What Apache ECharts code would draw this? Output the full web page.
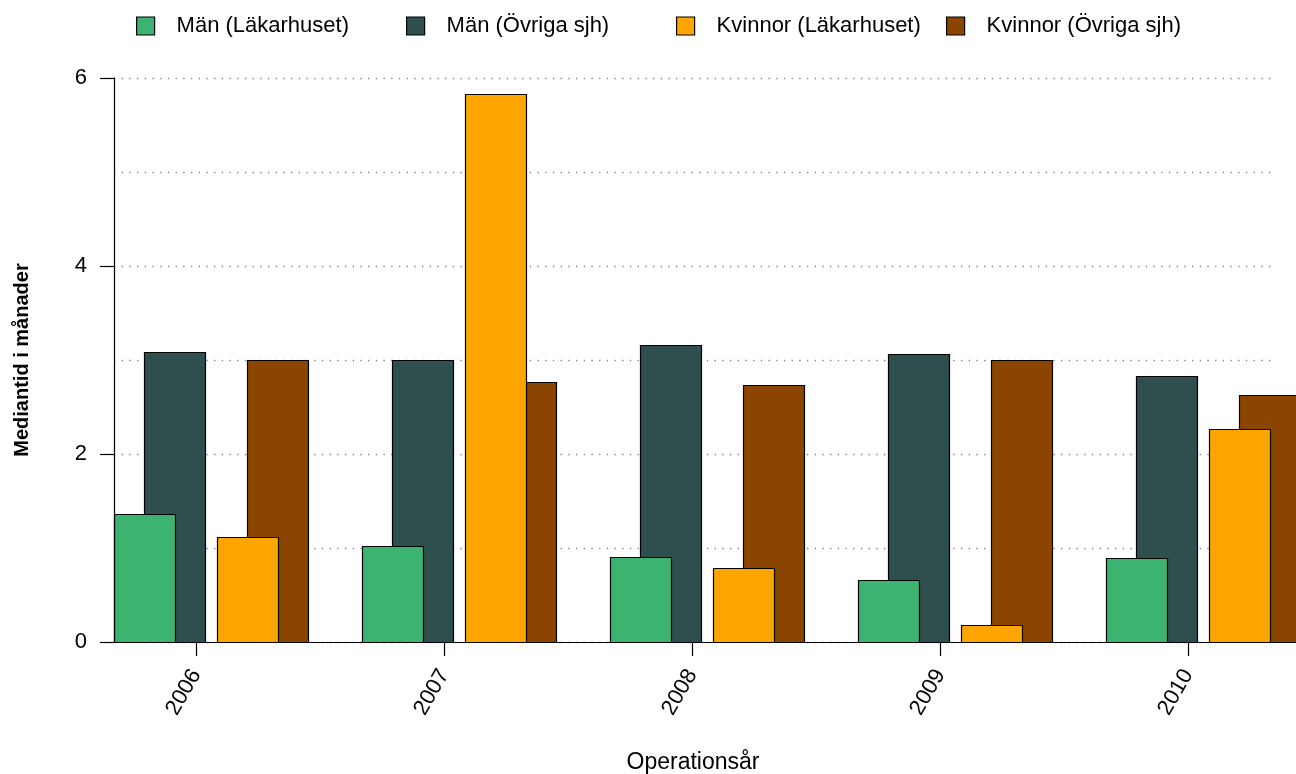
<!DOCTYPE html>
<html>
<head>
<meta charset="utf-8">
<script src="https://cdn.jsdelivr.net/npm/echarts@6/dist/echarts.min.js"></script>
<style>
html,body{margin:0;padding:0;background:#fff;}
#chart{width:1296px;height:774px;}
</style>
</head>
<body>
<div id="chart"></div>
<script>
// ---- data ----
var years = ['2006', '2007', '2008', '2009', '2010'];
var manLakarhuset = [1.36, 1.02, 0.90, 0.66, 0.89];
var manOvriga = [3.09, 3.00, 3.16, 3.06, 2.83];
var kvinnorLakarhuset = [1.12, 5.83, 0.79, 0.18, 2.27];
var kvinnorOvriga = [3.00, 2.77, 2.73, 3.00, 2.63];
var seriesNames = ['Män (Läkarhuset)', 'Män (Övriga sjh)', 'Kvinnor (Läkarhuset)', 'Kvinnor (Övriga sjh)'];
var yTickLabels = [0, 2, 4, 6];

// ---- layout / style ----
var FONT = 'Liberation Sans, Arial, Helvetica, sans-serif';
var BAR_W = 0.244;          // bar width in year units
var colors = ['#3CB371', '#2F4F4F', '#FFA500', '#8B4500'];
var starts = [-0.3306, -0.2077, 0.0847, 0.2056]; // left edge offset from year tick
var zs = [4, 3, 4, 3];

function toData(arr) { return arr.map(function (v, i) { return [i, v]; }); }

function makeSeries(k, values) {
  return {
    name: seriesNames[k],
    type: 'custom',
    xAxisIndex: 1,
    yAxisIndex: 1,
    z: zs[k],
    clip: false,
    itemStyle: { color: colors[k], borderColor: '#000', borderWidth: 1 },
    encode: { x: 0, y: 1 },
    data: toData(values),
    renderItem: function (params, api) {
      var i = api.value(0), v = api.value(1);
      var p0 = api.coord([i + starts[k], 0]);
      var p1 = api.coord([i + starts[k] + BAR_W, v]);
      var x0 = Math.round(p0[0]) + 0.5, x1 = Math.round(p1[0]) + 0.5;
      var y0 = Math.round(p0[1]) + 0.5, y1 = Math.round(p1[1]) + 0.5;
      return {
        type: 'rect',
        shape: { x: x0, y: y1, width: x1 - x0, height: y0 - y1 },
        style: { fill: colors[k], stroke: '#000', lineWidth: 1.2 }
      };
    }
  };
}

var legendLefts = [136, 406, 676, 946];
var legends = seriesNames.map(function (n, k) {
  return {
    data: [n],
    left: legendLefts[k],
    top: 15,
    padding: 0,
    itemWidth: 18,
    itemHeight: 18,
    selectedMode: false,
    icon: 'rect',
    itemStyle: { borderColor: '#000', borderWidth: 1.2 },
    textStyle: { fontFamily: FONT, fontSize: 22, color: '#000', padding: [0, 0, 0, 17] }
  };
});

var X_MIN = -82 / 248, X_MAX = 1100 / 248;

var option = {
  backgroundColor: '#fff',
  animation: false,
  legend: legends,
  grid: [
    { left: 114, right: 24, top: 78, bottom: 132, outerBoundsMode: 'none', containLabel: false },
    { left: 114, right: 0, top: 78, bottom: 132, outerBoundsMode: 'none', containLabel: false }
  ],
  xAxis: [
    {
      gridIndex: 0, type: 'value', min: X_MIN, max: 1158 / 248,
      axisLine: { show: false }, axisTick: { show: false }, axisLabel: { show: false },
      splitLine: { show: false },
      name: 'Operationsår', nameLocation: 'middle', nameGap: 109,
      nameTextStyle: { fontFamily: FONT, fontSize: 23, color: '#000' }
    },
    {
      gridIndex: 1, type: 'value', min: X_MIN, max: X_MAX, z: 10,
      axisLine: { show: true, onZero: false, lineStyle: { color: '#000', width: 1.2 } },
      axisTick: { show: true, length: 14, lineStyle: { color: '#000', width: 1.2 }, customValues: [0, 1, 2, 3, 4] },
      axisLabel: {
        show: true, rotate: 60, margin: 29, customValues: [0, 1, 2, 3, 4],
        fontFamily: FONT, fontSize: 22, color: '#000',
        formatter: function (v) { return years[Math.round(v)]; }
      },
      splitLine: { show: false }
    }
  ],
  yAxis: [
    {
      gridIndex: 0, type: 'value', min: 0, max: 6, interval: 1, position: 'left',
      axisLine: { show: false }, axisTick: { show: false }, axisLabel: { show: false },
      splitLine: { show: true, lineStyle: { color: '#808080', width: 1.3, type: [1.3, 6.4] } }
    },
    {
      gridIndex: 1, type: 'value', min: 0, max: 6, interval: 1, show: false, position: 'left',
      splitLine: { show: false }
    },
    {
      gridIndex: 0, type: 'value', min: 0, max: 6, interval: 2, z: 10, position: 'left', offset: 0,
      axisLine: { show: true, onZero: false, lineStyle: { color: '#000', width: 1.2 } },
      axisTick: { show: true, length: 14, lineStyle: { color: '#000', width: 1.2 } },
      axisLabel: { show: true, margin: 27, fontFamily: FONT, fontSize: 22, color: '#000' },
      splitLine: { show: false },
      name: 'Mediantid i månader', nameLocation: 'middle', nameGap: 82, nameRotate: 90,
      nameTextStyle: { fontFamily: FONT, fontSize: 20, fontWeight: 'bold', color: '#000' }
    }
  ],
  series: [
    makeSeries(0, manLakarhuset),
    makeSeries(1, manOvriga),
    makeSeries(2, kvinnorLakarhuset),
    makeSeries(3, kvinnorOvriga)
  ]
};

var chart = echarts.init(document.getElementById('chart'), null, { renderer: 'canvas' });
chart.setOption(option);
</script>
</body>
</html>
